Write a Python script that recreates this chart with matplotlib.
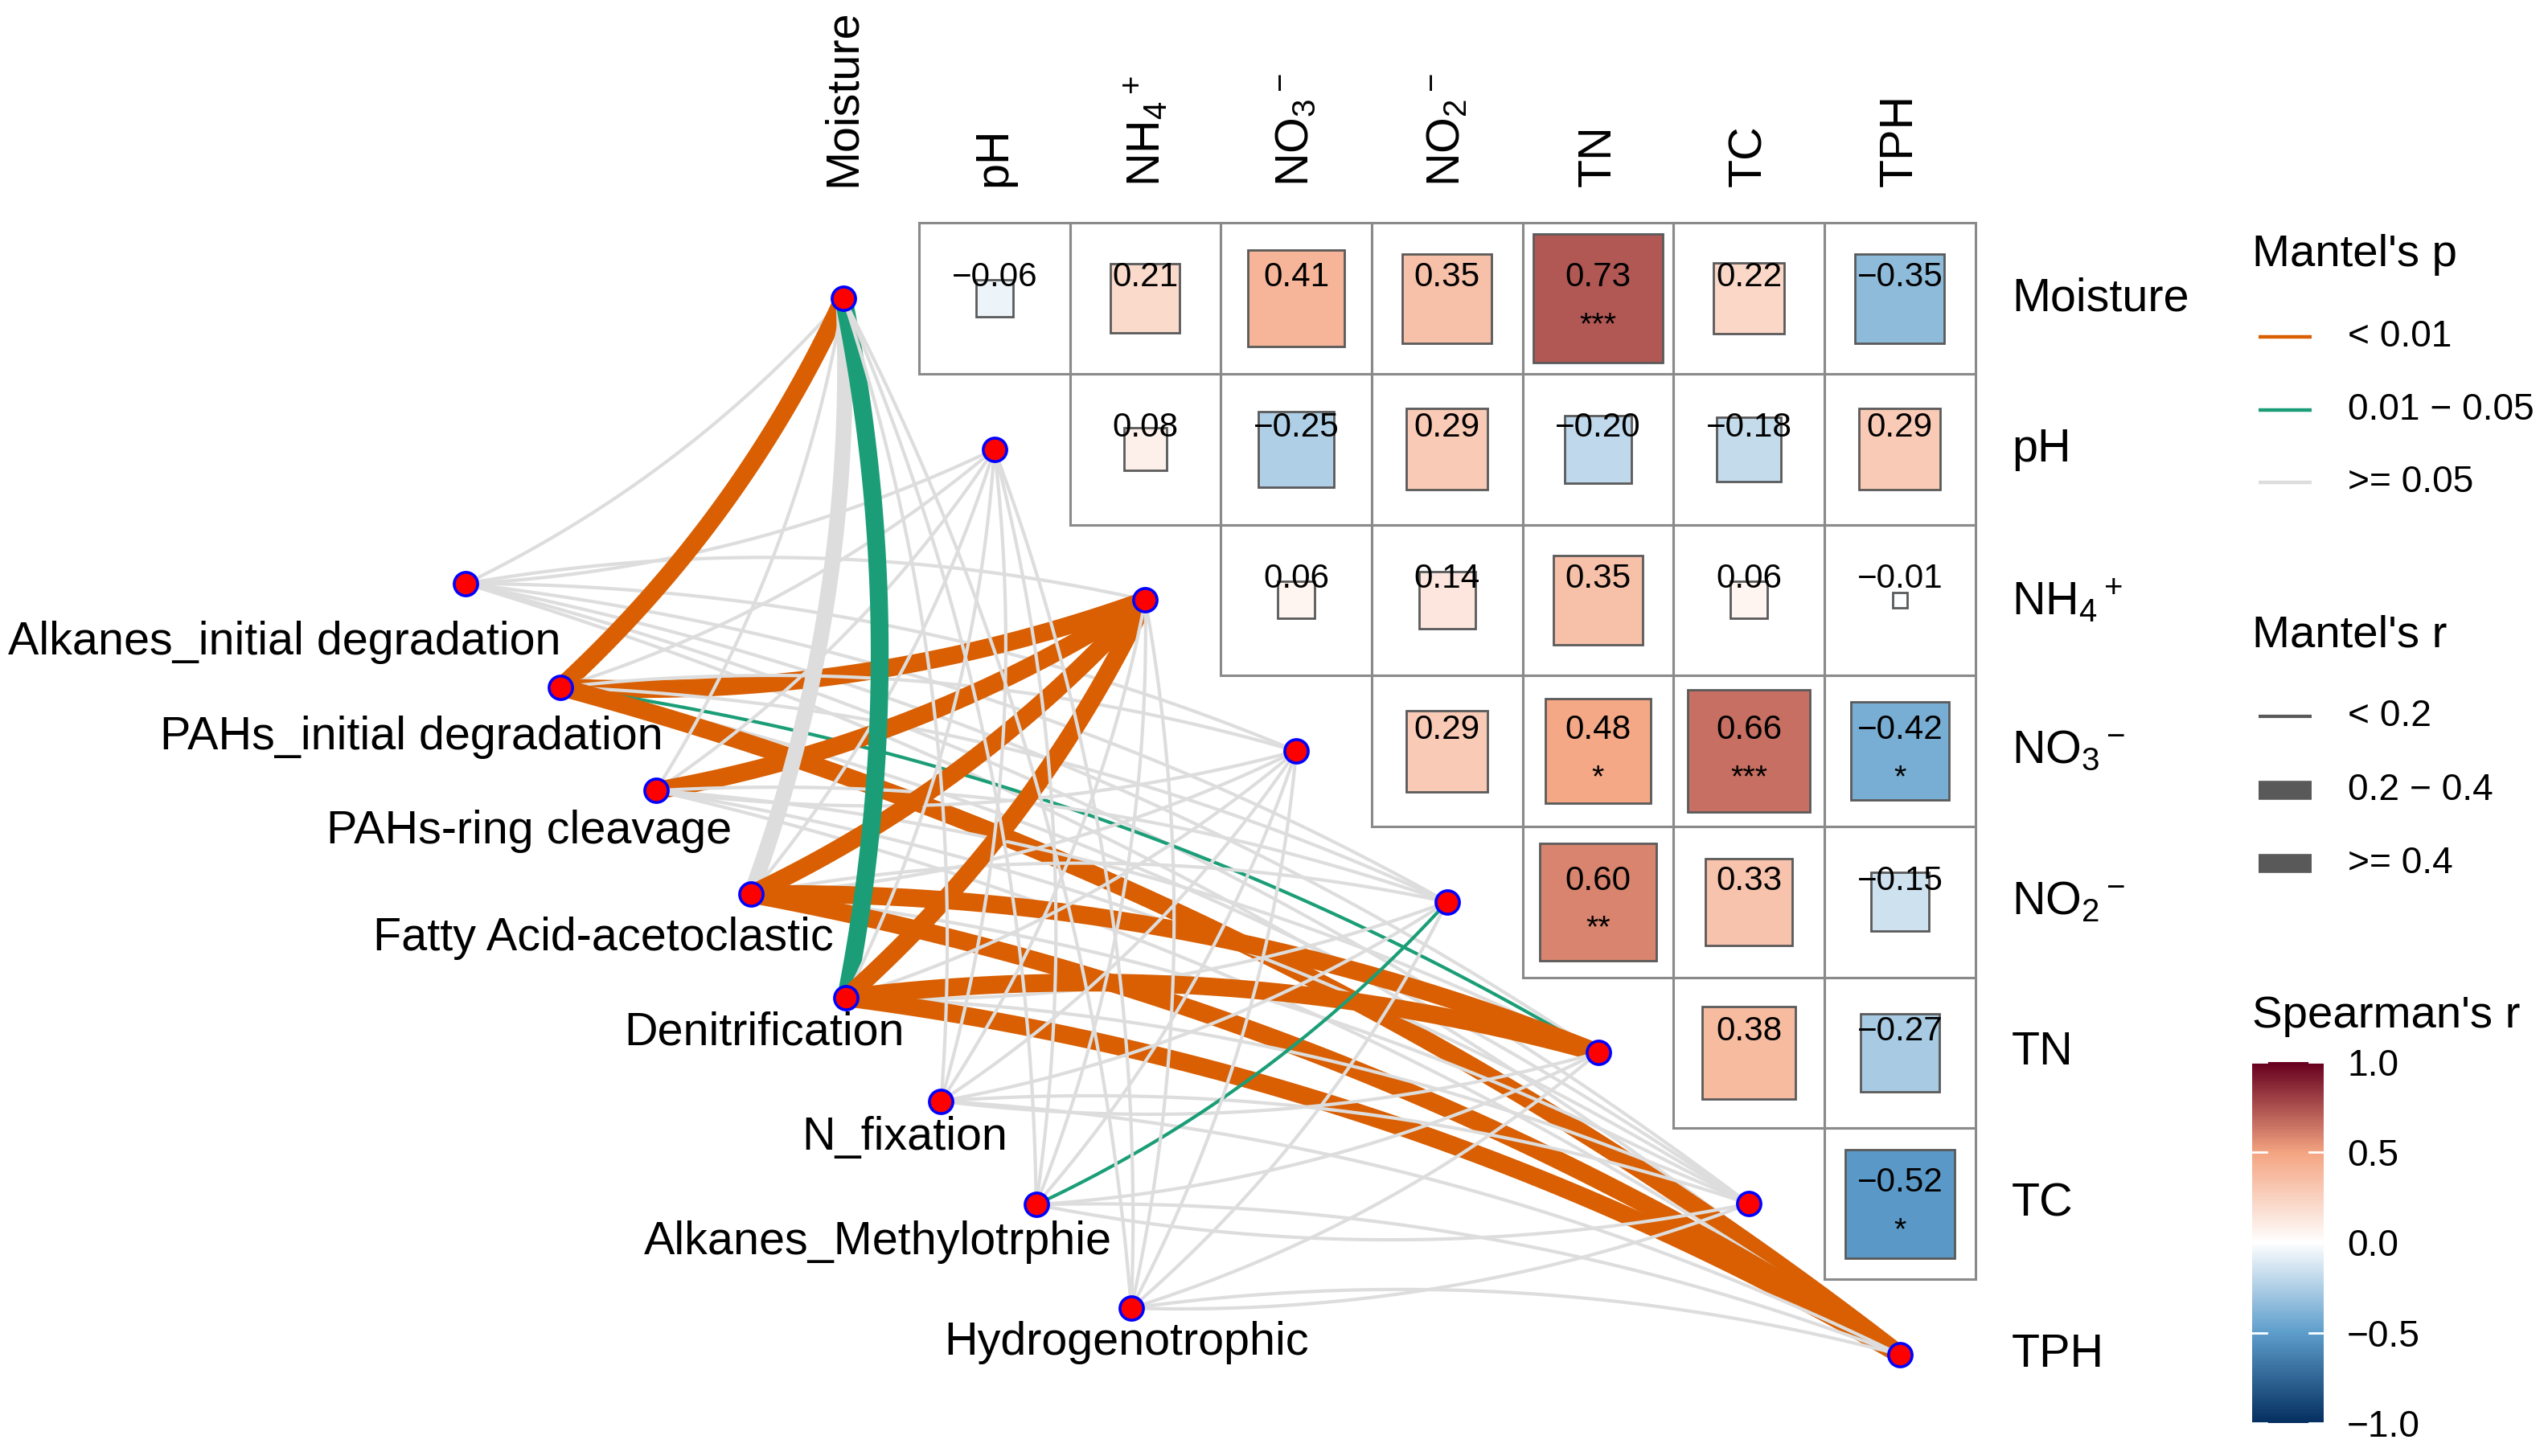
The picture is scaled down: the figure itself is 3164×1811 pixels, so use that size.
"""Mantel test network of functional groups linked to a Spearman
   correlation heatmap of soil properties (linkET style figure)."""

import numpy as np
import matplotlib
matplotlib.use('Agg')
import matplotlib.pyplot as plt
from matplotlib.colors import LinearSegmentedColormap, Normalize
from matplotlib.patches import Rectangle

plt.rcParams['font.family'] = ['Liberation Sans', 'DejaVu Sans']
plt.rcParams['mathtext.fontset'] = 'custom'
plt.rcParams['mathtext.rm'] = 'Liberation Sans'
plt.rcParams['mathtext.it'] = 'Liberation Sans:italic'
plt.rcParams['mathtext.default'] = 'regular'

# ---- data -------------------------------------------------------------
ENV_LABELS = ['Moisture', 'pH', r'NH$_4$$^+$', r'NO$_3$$^-$', r'NO$_2$$^-$',
              'TN', 'TC', 'TPH']

# upper triangle of the Spearman matrix, row i holds columns i+1 .. 7
SPEARMAN_R = [
    [-0.06, 0.21, 0.41, 0.35, 0.73, 0.22, -0.35],
    [0.08, -0.25, 0.29, -0.20, -0.18, 0.29],
    [0.06, 0.14, 0.35, 0.06, -0.01],
    [0.29, 0.48, 0.66, -0.42],
    [0.60, 0.33, -0.15],
    [0.38, -0.27],
    [-0.52],
]
SPEARMAN_STARS = [
    ['', '', '', '', '***', '', ''],
    ['', '', '', '', '', ''],
    ['', '', '', '', ''],
    ['', '*', '***', '*'],
    ['**', '', ''],
    ['', ''],
    ['*'],
]

SPEC_LABELS = ['Alkanes_initial degradation', 'PAHs_initial degradation',
               'PAHs-ring cleavage', 'Fatty Acid-acetoclastic',
               'Denitrification', 'N_fixation', 'Alkanes_Methylotrphie',
               'Hydrogenotrophic']

# Mantel's p class per (spec, env): 0 '< 0.01', 1 '0.01 - 0.05', 2 '>= 0.05'
MANTEL_P = [
    [2, 2, 2, 2, 2, 2, 2, 2],
    [0, 2, 0, 2, 2, 1, 2, 0],
    [2, 2, 0, 2, 2, 2, 2, 2],
    [2, 2, 0, 2, 2, 0, 2, 0],
    [1, 2, 0, 2, 2, 0, 2, 0],
    [2, 2, 2, 2, 2, 2, 2, 2],
    [2, 2, 2, 2, 1, 2, 2, 2],
    [2, 2, 2, 2, 2, 2, 2, 2],
]
# Mantel's r class per (spec, env): 0 '< 0.2', 1 '0.2 - 0.4', 2 '>= 0.4'
MANTEL_R = [
    [0, 0, 0, 0, 0, 0, 0, 0],
    [2, 0, 2, 0, 0, 0, 0, 2],
    [0, 0, 2, 0, 0, 0, 0, 0],
    [1, 0, 2, 0, 0, 2, 0, 2],
    [2, 0, 2, 0, 0, 2, 0, 2],
    [0, 0, 0, 0, 0, 0, 0, 0],
    [0, 0, 0, 0, 0, 0, 0, 0],
    [0, 0, 0, 0, 0, 0, 0, 0],
]

P_LABELS = ['< 0.01', '0.01 \u2212 0.05', '>= 0.05']
R_LABELS = ['< 0.2', '0.2 \u2212 0.4', '>= 0.4']
CBAR_TICKS = [-1.0, -0.5, 0.0, 0.5, 1.0]

# ---- style / layout ---------------------------------------------------
P_COLORS = ['#D95F02', '#1B9E77', '#DDDDDD']
R_WIDTHS = [1.5, 7.0, 8.0]
LEGEND_R_WIDTHS = [1.5, 8.5, 8.5]
CMAP = LinearSegmentedColormap.from_list(
    'spearman', [(0.0, '#053061'), (0.25, '#5E9ECC'), (0.5, '#FFFFFF'),
                 (0.75, '#F4A582'), (1.0, '#67001F')])
NORM = Normalize(-1, 1)

SPEC_START = (-2.504, 1.891)
SPEC_END = (1.907, 6.692)
SPEC_LABEL_DX = [-1.20, -0.99, -0.84, -0.98, -0.54, -0.24, -1.05, -0.03]
SPEC_LABEL_DY = [0.39, 0.33, 0.27, 0.29, 0.23, 0.24, 0.25, 0.23]
CURVATURE = 0.1

W, H, DPI = 3164, 1811, 200
XLIM = (-5.589, 11.268)
YLIM = (7.672, -1.977)
LABEL_SIZE = 20.7
CELL_TEXT_SIZE = 15.2
LEGEND_TITLE_SIZE = 20.3
LEGEND_TEXT_SIZE = 16.6


def curve(p0, p2, n=80):
    """Quadratic curve between two nodes, bent like linkET's nice curvature."""

    (x1, y1), (x2, y2) = p0, p2
    rad = CURVATURE if y2 < y1 else -CURVATURE
    cx = (x1 + x2) / 2 + rad * (y1 - y2)
    cy = (y1 + y2) / 2 + rad * (x2 - x1)
    t = np.linspace(0, 1, n)
    x = (1 - t) ** 2 * x1 + 2 * (1 - t) * t * cx + t ** 2 * x2
    y = (1 - t) ** 2 * y1 + 2 * (1 - t) * t * cy + t ** 2 * y2
    return x, y


def draw_heatmap(ax):
    """Upper triangular heatmap with squares scaled by |r|."""

    n = len(ENV_LABELS)
    for i, row in enumerate(SPEARMAN_R):
        for k, r in enumerate(row):
            j = i + 1 + k
            ax.add_patch(Rectangle((j - 0.5, i - 0.5), 1, 1, facecolor='none',
                                   edgecolor='#8A8A8A', lw=1.1, zorder=1))
            side = np.sqrt(abs(r))
            ax.add_patch(Rectangle((j - side / 2, i - side / 2), side, side,
                                   facecolor=CMAP(NORM(r)), edgecolor='#5A5A5A',
                                   lw=1.0, zorder=1.5))
            ax.text(j, i - 0.14, f'{r:.2f}'.replace('-', '\u2212'),
                    ha='center', va='center', fontsize=CELL_TEXT_SIZE, zorder=4)
            stars = SPEARMAN_STARS[i][k]
            if stars:
                ax.text(j, i + 0.18, stars, ha='center', va='center',
                        fontsize=CELL_TEXT_SIZE - 1, zorder=4)

    for j, label in enumerate(ENV_LABELS):
        ax.text(j, -0.74, label, rotation=90, ha='center', va='bottom',
                fontsize=LABEL_SIZE)
        ax.text(n - 0.5 + 0.24, j, label, ha='left', va='center',
                fontsize=LABEL_SIZE)


def draw_network(ax):
    """Mantel edges between functional groups and soil properties."""

    n_spec = len(SPEC_LABELS)
    spec_x = np.linspace(SPEC_START[0], SPEC_END[0], n_spec)
    spec_y = np.linspace(SPEC_START[1], SPEC_END[1], n_spec)
    env_xy = [(k, k) for k in range(len(ENV_LABELS))]

    for i in range(n_spec):
        for k in range(len(ENV_LABELS)):
            x, y = curve((spec_x[i], spec_y[i]), env_xy[k])
            ax.plot(x, y, color=P_COLORS[MANTEL_P[i][k]],
                    lw=R_WIDTHS[MANTEL_R[i][k]], solid_capstyle='butt', zorder=2)

    node_style = dict(marker='o', ms=10.5, mfc='#FF0000', mec='#0000FF',
                      mew=1.3, ls='none', zorder=5)
    ax.plot(spec_x, spec_y, **node_style)
    ax.plot([p[0] for p in env_xy], [p[1] for p in env_xy], **node_style)

    for i, label in enumerate(SPEC_LABELS):
        ax.text(spec_x[i] + SPEC_LABEL_DX[i], spec_y[i] + SPEC_LABEL_DY[i], label,
                ha='center', va='center', fontsize=LABEL_SIZE)


def draw_legends(fig, ax):
    """Mantel's p / r keys and the Spearman colour bar."""

    title_x, key_x0, key_x1, text_x = 9.335, 9.375, 9.730, 9.970
    ax.text(title_x, -0.288, "Mantel's p", ha='left', va='center',
            fontsize=LEGEND_TITLE_SIZE)
    for y, label, color in zip([0.255, 0.740, 1.220], P_LABELS, P_COLORS):
        ax.plot([key_x0, key_x1], [y, y], color=color, lw=1.6, solid_capstyle='butt')
        ax.text(text_x, y, label, ha='left', va='center', fontsize=LEGEND_TEXT_SIZE)

    ax.text(title_x, 2.236, "Mantel's r", ha='left', va='center',
            fontsize=LEGEND_TITLE_SIZE)
    for y, label, lw in zip([2.770, 3.260, 3.745], R_LABELS, LEGEND_R_WIDTHS):
        ax.plot([key_x0, key_x1], [y, y], color='#595959', lw=lw, solid_capstyle='butt')
        ax.text(text_x, y, label, ha='left', va='center', fontsize=LEGEND_TEXT_SIZE)

    ax.text(title_x, 4.760, "Spearman's r", ha='left', va='center',
            fontsize=LEGEND_TITLE_SIZE)

    cax = fig.add_axes([2801 / W, 1 - 1770 / H, 89 / W, 449 / H])
    grad = np.linspace(-1, 1, 400).reshape(-1, 1)
    cax.imshow(grad, cmap=CMAP, norm=NORM, aspect='auto', origin='lower',
               extent=(0, 1, -1, 1))
    for v in CBAR_TICKS:
        cax.plot([0, 0.2], [v, v], color='white', lw=1.0)
        cax.plot([0.8, 1], [v, v], color='white', lw=1.0)
    cax.set_xlim(0, 1)
    cax.set_ylim(-1, 1)
    cax.set_xticks([])
    cax.yaxis.tick_right()
    cax.set_yticks(CBAR_TICKS)
    cax.set_yticklabels([f'{v:.1f}'.replace('-', '\u2212') for v in CBAR_TICKS],
                        fontsize=LEGEND_TEXT_SIZE)
    cax.tick_params(axis='y', length=0, pad=10.5)
    for spine in cax.spines.values():
        spine.set_visible(False)


def make_figure():
    """Build the full figure and save it."""

    fig = plt.figure(figsize=(W / DPI, H / DPI), dpi=DPI)
    ax = fig.add_axes([0, 0, 1, 1])
    ax.set_xlim(*XLIM)
    ax.set_ylim(*YLIM)
    ax.axis('off')

    draw_heatmap(ax)
    draw_network(ax)
    draw_legends(fig, ax)

    fig.savefig('out.png', dpi=DPI, facecolor='white')


make_figure()
